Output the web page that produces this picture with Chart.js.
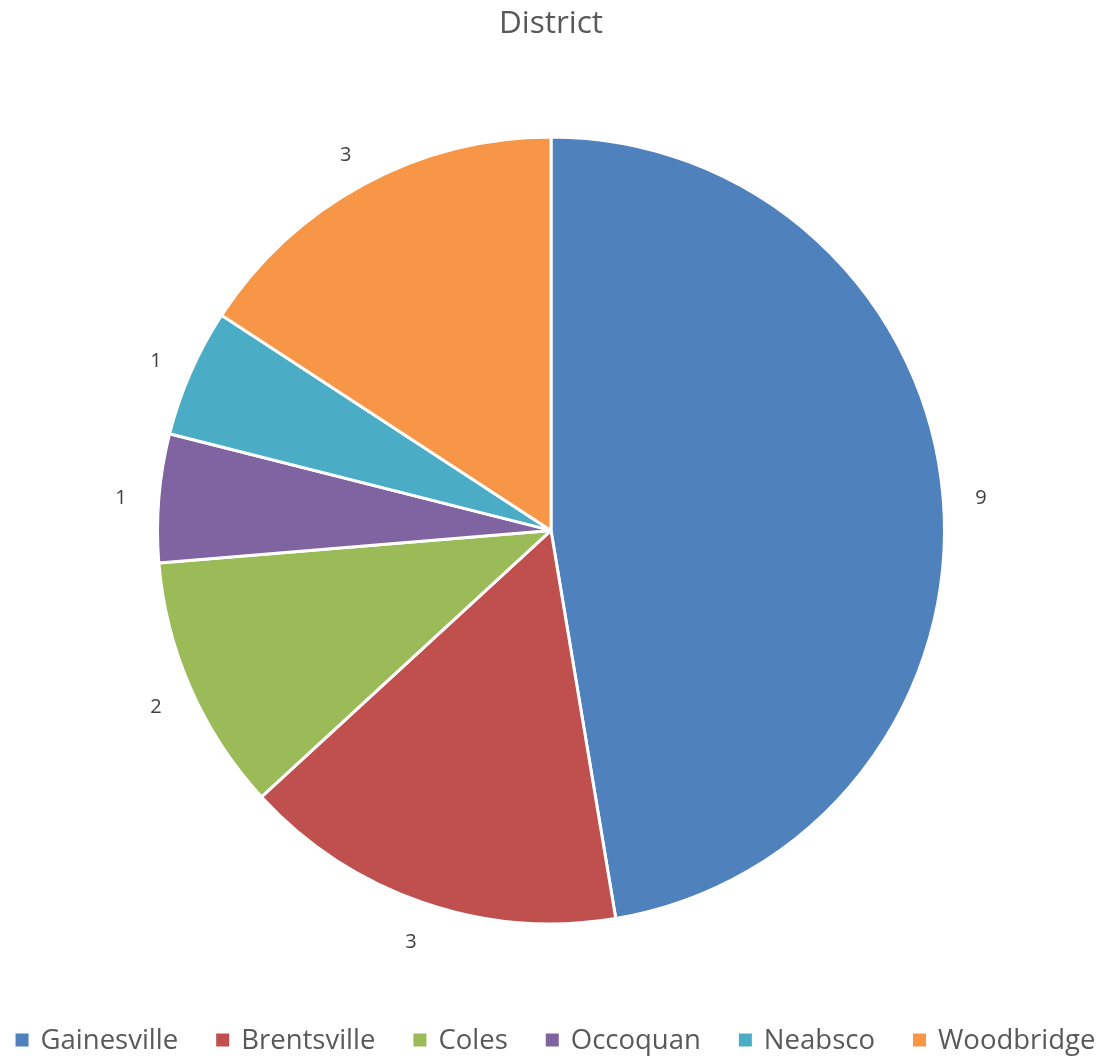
<!DOCTYPE html>
<html>
<head>
<meta charset="utf-8">
<script src="https://cdn.jsdelivr.net/npm/chart.js@4"></script>
<style>
  html, body { margin: 0; padding: 0; background: #ffffff; }
  #wrap { width: 1105px; height: 1057px; }
</style>
</head>
<body>
<div id="wrap"><canvas id="c" width="1105" height="1057"></canvas></div>
<script>
const categories = ["Gainesville", "Brentsville", "Coles", "Occoquan", "Neabsco", "Woodbridge"];
const counts = [9, 3, 2, 1, 1, 3];
const sliceColors = ["#4F81BD", "#C0504D", "#9BBB59", "#8064A2", "#4BACC6", "#F79646"];
const chartTitle = "District";

const FONT = "'Open Sans', 'Noto Sans', sans-serif";

const outsideLabels = {
  id: 'outsideLabels',
  afterDatasetsDraw(chart) {
    const ctx = chart.ctx;
    const meta = chart.getDatasetMeta(0);
    ctx.save();
    ctx.font = "20px " + FONT;
    ctx.fillStyle = "#404040";
    ctx.textAlign = "center";
    ctx.textBaseline = "middle";
    meta.data.forEach((arc, i) => {
      const p = arc.getProps(['x', 'y', 'startAngle', 'endAngle', 'outerRadius'], true);
      const mid = (p.startAngle + p.endAngle) / 2;
      const r = p.outerRadius + 38;
      ctx.fillText(String(chart.data.datasets[0].data[i]), p.x + Math.cos(mid) * r, p.y + Math.sin(mid) * r + 4);
    });
    ctx.restore();
  }
};

const bottomLegend = {
  id: 'bottomLegend',
  afterDraw(chart) {
    const ctx = chart.ctx;
    ctx.save();
    ctx.font = "27.5px " + FONT;
    ctx.textBaseline = "middle";
    ctx.textAlign = "left";
    const box = 13, gapText = 12, gapItem = 38;
    const labels = chart.data.labels;
    const widths = labels.map(t => ctx.measureText(t).width);
    let total = 0;
    widths.forEach((w, i) => { total += box + gapText + w + (i < widths.length - 1 ? gapItem : 0); });
    let x = (chart.width - total) / 2 + 3;
    const y = 1040;
    labels.forEach((t, i) => {
      ctx.fillStyle = chart.data.datasets[0].backgroundColor[i];
      ctx.fillRect(x, y - box / 2, box, box);
      ctx.fillStyle = "#595959";
      ctx.fillText(t, x + box + gapText, y + 1);
      x += box + gapText + widths[i] + gapItem;
    });
    ctx.restore();
  }
};

new Chart(document.getElementById('c'), {
  type: 'pie',
  data: {
    labels: categories,
    datasets: [{
      data: counts,
      backgroundColor: sliceColors,
      borderColor: "#ffffff",
      borderWidth: 3,
      hoverOffset: 0
    }]
  },
  options: {
    responsive: false,
    animation: false,
    devicePixelRatio: 1,
    radius: 393.5,
    layout: { padding: { top: 0, bottom: 48, left: 0, right: 3 } },
    plugins: {
      legend: { display: false },
      tooltip: { enabled: false },
      title: {
        display: true,
        text: chartTitle,
        color: "#595959",
        font: { family: FONT, size: 31.5, weight: 'normal' },
        padding: { top: 5, bottom: 9 }
      }
    }
  },
  plugins: [outsideLabels, bottomLegend]
});
</script>
</body>
</html>
